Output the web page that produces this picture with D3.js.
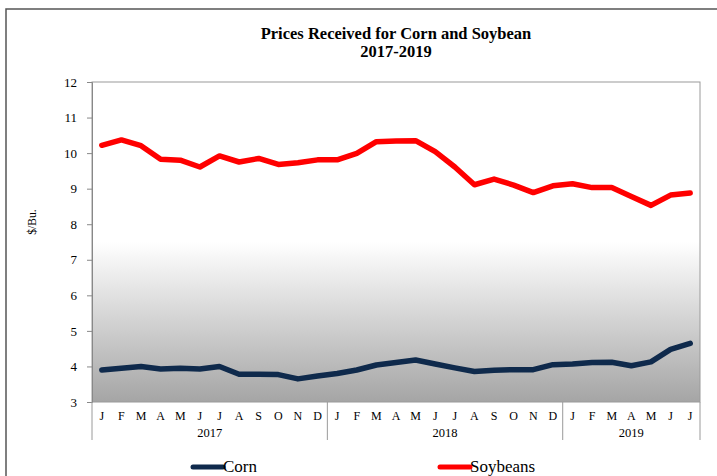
<!DOCTYPE html>
<html>
<head>
<meta charset="utf-8">
<script src="https://cdn.jsdelivr.net/npm/d3@7"></script>
<style>
  body { margin: 0; background: #fff; }
  svg { display: block; font-family: "Liberation Serif", "Times New Roman", serif; }
</style>
</head>
<body>
<svg id="chart" width="717" height="476"></svg>
<script>
// months Jan 2017 - Jul 2019
const months = ["J","F","M","A","M","J","J","A","S","O","N","D",
                "J","F","M","A","M","J","J","A","S","O","N","D",
                "J","F","M","A","M","J","J"];
const years = [
  {label: "2017", start: 0, end: 12},
  {label: "2018", start: 12, end: 24},
  {label: "2019", start: 24, end: 31}
];
const corn = [3.90, 3.95, 4.00, 3.93, 3.95, 3.93, 4.00, 3.78, 3.78, 3.77, 3.65, 3.73,
              3.80, 3.90, 4.04, 4.11, 4.18, 4.07, 3.96, 3.86, 3.89, 3.91, 3.91, 4.05,
              4.07, 4.11, 4.12, 4.02, 4.13, 4.48, 4.65];
const soybeans = [10.22, 10.37, 10.21, 9.83, 9.80, 9.61, 9.92, 9.75, 9.85, 9.68, 9.73, 9.81,
                  9.81, 9.99, 10.32, 10.34, 10.35, 10.04, 9.61, 9.11, 9.27, 9.10, 8.89, 9.08,
                  9.14, 9.03, 9.03, 8.78, 8.53, 8.82, 8.88];
const yTicks = [3, 4, 5, 6, 7, 8, 9, 10, 11, 12];

const svg = d3.select("#chart");
const margin = {left: 92, top: 82, right: 17, bottom: 74};
const W = 717, H = 476;
const plotW = W - margin.left - margin.right;
const plotH = H - margin.top - margin.bottom;

// outer frame (only top and left visible)
svg.append("path")
  .attr("d", `M6,${H} L6,9 L${W},9`)
  .attr("fill", "none")
  .attr("stroke", "#555")
  .attr("stroke-width", 1.5);

// title
svg.append("text")
  .attr("x", 396).attr("y", 39)
  .attr("text-anchor", "middle")
  .style("font-weight", "bold").style("font-size", "16.5px")
  .text("Prices Received for Corn and Soybean");
svg.append("text")
  .attr("x", 396).attr("y", 57)
  .attr("text-anchor", "middle")
  .style("font-weight", "bold").style("font-size", "16.5px")
  .text("2017-2019");

const defs = svg.append("defs");
const grad = defs.append("linearGradient")
  .attr("id", "bg").attr("x1", 0).attr("y1", 0).attr("x2", 0).attr("y2", 1);
grad.append("stop").attr("offset", "0%").attr("stop-color", "#ffffff");
grad.append("stop").attr("offset", "50%").attr("stop-color", "#ffffff");
grad.append("stop").attr("offset", "100%").attr("stop-color", "#a5a5a5");

const g = svg.append("g").attr("transform", `translate(${margin.left},${margin.top})`);

const x = d3.scaleBand().domain(d3.range(months.length)).range([0, plotW]);
const y = d3.scaleLinear().domain([3, 12]).range([plotH, 0]);

g.append("rect")
  .attr("width", plotW).attr("height", plotH)
  .attr("fill", "url(#bg)")
  .attr("stroke", "#9a9a9a").attr("stroke-width", 1);

// y axis
const yAxis = g.append("g")
  .call(d3.axisLeft(y).tickValues(yTicks).tickSize(5).tickPadding(10));
yAxis.select(".domain").attr("stroke", "#888");
yAxis.selectAll(".tick line").attr("stroke", "#888");
yAxis.selectAll("text")
  .style("font-family", "Liberation Serif, serif")
  .style("font-size", "13px").attr("fill", "#000");

svg.append("text")
  .attr("transform", "translate(36,222) rotate(-90)")
  .attr("text-anchor", "middle")
  .style("font-size", "11.5px")
  .text("$/Bu.");

// x axis month labels
g.selectAll(".month")
  .data(months)
  .enter().append("text")
  .attr("class", "month")
  .attr("x", (d, i) => x(i) + x.bandwidth() / 2)
  .attr("y", plotH + 18)
  .attr("text-anchor", "middle")
  .style("font-size", "12px")
  .text(d => d);

// year separators and labels
const seps = [0].concat(years.map(d => d.end));
g.selectAll(".sep")
  .data(seps)
  .enter().append("line")
  .attr("x1", d => d === months.length ? plotW : x(d))
  .attr("x2", d => d === months.length ? plotW : x(d))
  .attr("y1", plotH).attr("y2", plotH + 38)
  .attr("stroke", "#9a9a9a").attr("stroke-width", 1);

g.selectAll(".year")
  .data(years)
  .enter().append("text")
  .attr("x", d => (x(d.start) + (d.end === months.length ? plotW : x(d.end))) / 2)
  .attr("y", plotH + 35)
  .attr("text-anchor", "middle")
  .style("font-size", "12.5px")
  .text(d => d.label);

// lines
const line = d3.line()
  .x((d, i) => x(i) + x.bandwidth() / 2)
  .y(d => y(d));

g.append("path")
  .datum(soybeans)
  .attr("d", line)
  .attr("fill", "none")
  .attr("stroke", "#ff0000")
  .attr("stroke-width", 5.5)
  .attr("stroke-linejoin", "round")
  .attr("stroke-linecap", "round");

g.append("path")
  .datum(corn)
  .attr("d", line)
  .attr("fill", "none")
  .attr("stroke", "#0f2a4c")
  .attr("stroke-width", 5.5)
  .attr("stroke-linejoin", "round")
  .attr("stroke-linecap", "round");

// legend
const legend = [
  {name: "Corn", color: "#0f2a4c", x: 193},
  {name: "Soybeans", color: "#ff0000", x: 440}
];
const lg = svg.selectAll(".legend")
  .data(legend)
  .enter().append("g")
  .attr("transform", d => `translate(${d.x},467)`);
lg.append("line")
  .attr("x1", 0).attr("x2", 30)
  .attr("stroke", d => d.color)
  .attr("stroke-width", 5)
  .attr("stroke-linecap", "round");
lg.append("text")
  .attr("x", 30).attr("y", 5)
  .style("font-size", "17px")
  .text(d => d.name);
</script>
</body>
</html>
